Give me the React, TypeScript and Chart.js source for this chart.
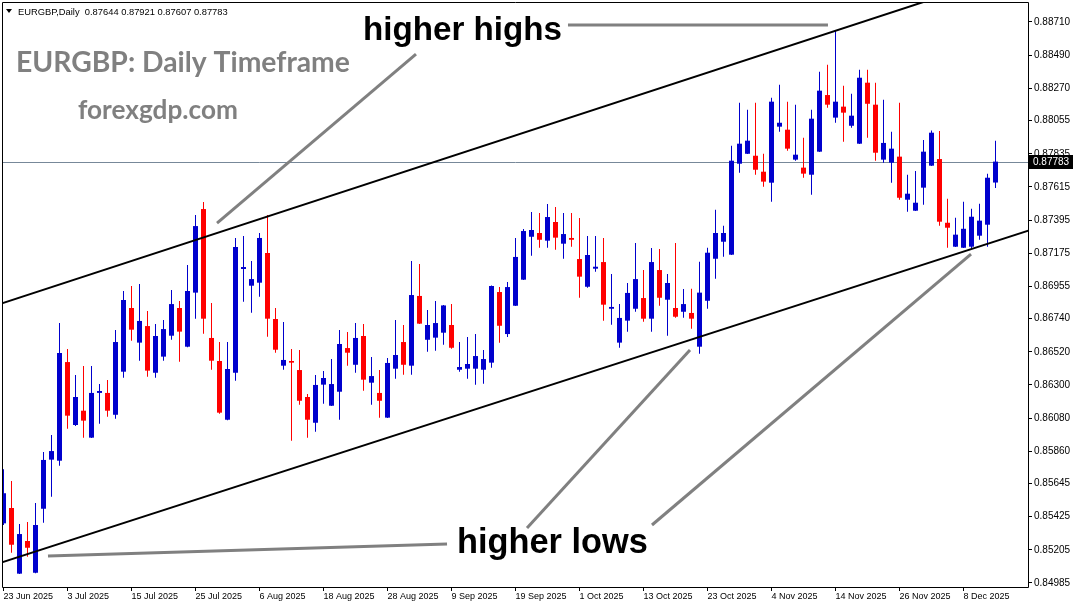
import React, { useEffect, useRef } from 'react';
import { Chart, registerables } from 'chart.js';

Chart.register(...registerables);

// ---- Data (EURGBP daily, 23 Jun 2025 .. 12 Dec 2025), bar index = trading day ----
const opens = [
  0.85381, 0.85483, 0.85047, 0.85264, 0.85053, 0.85478, 0.85804, 0.85797, 0.86452, 0.86034,
  0.86129, 0.85950, 0.86247, 0.86247, 0.86102, 0.86388, 0.86811, 0.86581, 0.86691, 0.86381,
  0.86488, 0.86627, 0.86811, 0.86554, 0.86913, 0.87468, 0.86612, 0.86459, 0.86069, 0.86381,
  0.87070, 0.86959, 0.86979, 0.87176, 0.86738, 0.86428, 0.86459, 0.86399, 0.86220, 0.86049,
  0.86302, 0.86162, 0.86255, 0.86545, 0.86434, 0.86625, 0.86315, 0.86247, 0.86083, 0.86408,
  0.86585, 0.86428, 0.86891, 0.86600, 0.86614, 0.86647, 0.86698, 0.86401, 0.86408, 0.86408,
  0.86401, 0.86448, 0.86917, 0.86638, 0.86826, 0.86999, 0.87284, 0.87309, 0.87258, 0.87382,
  0.87238, 0.87276, 0.87136, 0.86952, 0.87072, 0.87116, 0.86806, 0.86581, 0.86727, 0.86806,
  0.86877, 0.86740, 0.87063, 0.86866, 0.86811, 0.86786, 0.86778, 0.86554, 0.86859, 0.87138,
  0.87251, 0.87165, 0.87769, 0.87835, 0.87822, 0.87716, 0.87643, 0.88015, 0.87995, 0.87796,
  0.87743, 0.87696, 0.87849, 0.88225, 0.88075, 0.88148, 0.88021, 0.87902, 0.88307, 0.88161,
  0.87796, 0.87776, 0.87816, 0.87530, 0.87457, 0.87610, 0.87756, 0.87800, 0.87377, 0.87218,
  0.87211, 0.87218, 0.87291, 0.87364, 0.87644,
];
const highs = [
  0.85740, 0.85662, 0.85377, 0.85390, 0.85516, 0.85855, 0.85968, 0.86711, 0.86539, 0.86366,
  0.86426, 0.86426, 0.86306, 0.86333, 0.86665, 0.86924, 0.86957, 0.86970, 0.86791, 0.86705,
  0.86731, 0.86930, 0.86857, 0.87096, 0.87428, 0.87515, 0.86844, 0.86585, 0.86585, 0.87276,
  0.87289, 0.87123, 0.87309, 0.87428, 0.86811, 0.86718, 0.86539, 0.86532, 0.86240, 0.86366,
  0.86393, 0.86472, 0.86665, 0.86652, 0.86711, 0.86705, 0.86486, 0.86399, 0.86479, 0.86731,
  0.86698, 0.87123, 0.87103, 0.86798, 0.86857, 0.86831, 0.86837, 0.86585, 0.86618, 0.86638,
  0.86532, 0.86960, 0.86950, 0.86984, 0.87276, 0.87335, 0.87448, 0.87442, 0.87501, 0.87482,
  0.87442, 0.87442, 0.87409, 0.87289, 0.87289, 0.87276, 0.87037, 0.86837, 0.86977, 0.87243,
  0.87063, 0.87209, 0.87203, 0.87037, 0.87243, 0.86937, 0.86939, 0.87118, 0.87211, 0.87464,
  0.87357, 0.87889, 0.88174, 0.88128, 0.88174, 0.87835, 0.88207, 0.88294, 0.88181, 0.88161,
  0.87942, 0.88128, 0.88380, 0.88426, 0.88655, 0.88287, 0.88234, 0.88393, 0.88393, 0.88307,
  0.88194, 0.87982, 0.88174, 0.87696, 0.87721, 0.87926, 0.87989, 0.87986, 0.87537, 0.87410,
  0.87517, 0.87470, 0.87503, 0.87703, 0.87921,
];
const lows = [
  0.85370, 0.85186, 0.85045, 0.85160, 0.85050, 0.85385, 0.85558, 0.85764, 0.86009, 0.86027,
  0.85950, 0.85948, 0.86043, 0.86089, 0.86076, 0.86348, 0.86594, 0.86461, 0.86355, 0.86348,
  0.86461, 0.86600, 0.86454, 0.86550, 0.86740, 0.86640, 0.86401, 0.86109, 0.86066, 0.86328,
  0.86853, 0.86780, 0.86886, 0.86620, 0.86514, 0.86401, 0.85930, 0.86169, 0.85950, 0.85990,
  0.86175, 0.86160, 0.86069, 0.86428, 0.86381, 0.86262, 0.86169, 0.86083, 0.86080, 0.86341,
  0.86368, 0.86368, 0.86705, 0.86521, 0.86527, 0.86567, 0.86541, 0.86388, 0.86341, 0.86302,
  0.86308, 0.86415, 0.86581, 0.86618, 0.86824, 0.86997, 0.87158, 0.87211, 0.87211, 0.87198,
  0.87138, 0.87218, 0.86879, 0.86946, 0.87052, 0.86727, 0.86700, 0.86547, 0.86654, 0.86786,
  0.86720, 0.86654, 0.86826, 0.86627, 0.86747, 0.86747, 0.86673, 0.86507, 0.86806, 0.87005,
  0.87152, 0.87163, 0.87709, 0.87833, 0.87696, 0.87616, 0.87517, 0.87982, 0.87855, 0.87789,
  0.87676, 0.87563, 0.87847, 0.88141, 0.88041, 0.87915, 0.88008, 0.87900, 0.87942, 0.87789,
  0.87776, 0.87643, 0.87530, 0.87450, 0.87455, 0.87497, 0.87754, 0.87357, 0.87211, 0.87216,
  0.87209, 0.87205, 0.87264, 0.87218, 0.87607,
];
const closes = [
  0.85581, 0.85239, 0.85310, 0.85219, 0.85370, 0.85802, 0.85861, 0.86512, 0.86096, 0.86220,
  0.86063, 0.86247, 0.86260, 0.86129, 0.86585, 0.86864, 0.86667, 0.86725, 0.86395, 0.86625,
  0.86671, 0.86837, 0.86654, 0.86924, 0.87355, 0.86740, 0.86461, 0.86116, 0.86406, 0.87216,
  0.87083, 0.87003, 0.87276, 0.86740, 0.86534, 0.86466, 0.86448, 0.86195, 0.86069, 0.86300,
  0.86346, 0.86306, 0.86572, 0.86514, 0.86612, 0.86335, 0.86359, 0.86195, 0.86446, 0.86499,
  0.86434, 0.86897, 0.86707, 0.86698, 0.86711, 0.86828, 0.86547, 0.86419, 0.86439, 0.86492,
  0.86472, 0.86957, 0.86693, 0.86950, 0.87150, 0.87322, 0.87329, 0.87264, 0.87415, 0.87278,
  0.87302, 0.87264, 0.87019, 0.87163, 0.87085, 0.86833, 0.86818, 0.86745, 0.86911, 0.87003,
  0.86740, 0.87116, 0.86879, 0.86977, 0.86753, 0.86837, 0.86740, 0.86913, 0.87178, 0.87309,
  0.87309, 0.87789, 0.87902, 0.87922, 0.87729, 0.87650, 0.88181, 0.88041, 0.87869, 0.87829,
  0.87703, 0.88068, 0.88254, 0.88161, 0.88181, 0.88108, 0.88088, 0.88340, 0.88167, 0.87842,
  0.87907, 0.87869, 0.87543, 0.87570, 0.87510, 0.87849, 0.87975, 0.87384, 0.87344, 0.87298,
  0.87337, 0.87417, 0.87391, 0.87676, 0.87783,
];

// x-axis date labels every 8 bars
const xTickPositions = [0, 8, 16, 24, 32, 40, 48, 56, 64, 72, 80, 88, 96, 104, 112, 120];
const xTickLabels = [
  '23 Jun 2025', '3 Jul 2025', '15 Jul 2025', '25 Jul 2025', '6 Aug 2025', '18 Aug 2025',
  '28 Aug 2025', '9 Sep 2025', '19 Sep 2025', '1 Oct 2025', '13 Oct 2025', '23 Oct 2025',
  '4 Nov 2025', '14 Nov 2025', '26 Nov 2025', '8 Dec 2025',
];
// price axis labels
const yTickLabels = [
  '0.88710', '0.88490', '0.88270', '0.88055', '0.87835', '0.87615', '0.87395', '0.87175',
  '0.86955', '0.86740', '0.86520', '0.86300', '0.86080', '0.85860', '0.85645', '0.85425',
  '0.85205', '0.84985',
];

// trend channel and pointer lines (bar index, price)
const upperChannel = [{ x: -1, y: 0.86828 }, { x: 129, y: 0.89086 }];
const lowerChannel = [{ x: -1, y: 0.85108 }, { x: 129, y: 0.87340 }];
const highsPointerA = [{ x: 70.56, y: 0.8869 }, { x: 103.06, y: 0.8869 }];
const highsPointerB = [{ x: 26.69, y: 0.87375 }, { x: 51.56, y: 0.88497 }];
const lowsPointerA = [{ x: 5.56, y: 0.85164 }, { x: 55.44, y: 0.85244 }];
const lowsPointerB = [{ x: 65.44, y: 0.8535 }, { x: 85.81, y: 0.86532 }];
const lowsPointerC = [{ x: 81.06, y: 0.8537 }, { x: 120.94, y: 0.87169 }];

const SYMBOL_HEADER = 'EURGBP,Daily  0.87644 0.87921 0.87607 0.87783';
const TITLE = 'EURGBP: Daily Timeframe';
const SITE = 'forexgdp.com';
const HIGHS_TEXT = 'higher highs';
const LOWS_TEXT = 'higher lows';

const BLUE = '#0000CD';
const RED = '#FF0000';
const GRAY = '#808080';
const AXIS_FONT = 'Liberation Sans';

const Y_MIN = 0.849584;
const Y_MAX = 0.8883616;
const X_MIN = -0.0625;
const X_MAX = 128.0625;

function drawFitted(
  ctx: CanvasRenderingContext2D,
  text: string,
  x: number,
  baseline: number,
  width: number,
  weight: string,
  family: string,
  color: string
) {
  ctx.font = `${weight} 100px "${family}"`;
  const w = ctx.measureText(text).width;
  const size = (100 * width) / w;
  ctx.font = `${weight} ${size}px "${family}"`;
  ctx.fillStyle = color;
  ctx.textAlign = 'left';
  ctx.textBaseline = 'alphabetic';
  ctx.fillText(text, x, baseline);
}

const decorPlugin = {
  id: 'decor',
  beforeDraw(chart: any) {
    const ctx = chart.ctx;
    ctx.save();
    ctx.fillStyle = '#ffffff';
    ctx.fillRect(0, 0, chart.width, chart.height);
    ctx.restore();
  },
  beforeDatasetsDraw(chart: any) {
    const ctx = chart.ctx;
    const a = chart.chartArea;
    const y = Math.round(chart.scales.y.getPixelForValue(closes[closes.length - 1])) + 0.5;
    ctx.save();
    ctx.strokeStyle = '#778899';
    ctx.lineWidth = 1;
    ctx.beginPath();
    ctx.moveTo(a.left, y);
    ctx.lineTo(a.right, y);
    ctx.stroke();
    ctx.restore();
  },
  afterDraw(chart: any) {
    const ctx = chart.ctx;
    const a = chart.chartArea;
    ctx.save();
    // frame
    ctx.strokeStyle = '#000';
    ctx.lineWidth = 1;
    ctx.beginPath();
    ctx.moveTo(a.left - 0.5, a.bottom + 0.5);
    ctx.lineTo(a.left - 0.5, a.top - 0.5);
    ctx.lineTo(a.right + 0.5, a.top - 0.5);
    ctx.lineTo(a.right + 0.5, a.bottom + 0.5);
    ctx.lineTo(a.left - 0.5, a.bottom + 0.5);
    ctx.stroke();

    // header triangle + text
    ctx.fillStyle = '#000';
    ctx.beginPath();
    ctx.moveTo(6, 9);
    ctx.lineTo(12, 9);
    ctx.lineTo(9, 13);
    ctx.closePath();
    ctx.fill();
    drawFitted(ctx, SYMBOL_HEADER, 18, 15, 210, 'normal', AXIS_FONT, '#000');

    drawFitted(ctx, TITLE, 16, 72, 334, 'bold', 'Lato', GRAY);
    drawFitted(ctx, SITE, 78, 119, 160, 'bold', 'Lato', GRAY);
    drawFitted(ctx, HIGHS_TEXT, 363, 40, 199, 'bold', 'Liberation Sans', '#000');
    drawFitted(ctx, LOWS_TEXT, 457, 553, 191, 'bold', 'Liberation Sans', '#000');

    // current price box
    const last = closes[closes.length - 1];
    const py = Math.round(chart.scales.y.getPixelForValue(last));
    ctx.fillStyle = '#000';
    ctx.fillRect(a.right + 1, py - 7, 44, 14);
    ctx.fillStyle = '#fff';
    ctx.font = `10px "${AXIS_FONT}"`;
    ctx.textAlign = 'left';
    ctx.textBaseline = 'middle';
    ctx.fillText(last.toFixed(5), a.right + 5, py + 0.5);
    ctx.restore();
  },
};

export default function App() {
  const ref = useRef<HTMLCanvasElement | null>(null);

  useEffect(() => {
    if (!ref.current) return;
    const colors = closes.map((c, i) => (c >= opens[i] ? BLUE : RED));
    const bodyData = opens.map((o, i) => ({ x: i, y: [o, closes[i]] }));
    const wickData = highs.map((h, i) => ({ x: i, y: [lows[i], h] }));

    const lineDs = (data: any[], color: string, width: number) => ({
      type: 'line' as const,
      data,
      borderColor: color,
      borderWidth: width,
      pointRadius: 0,
      tension: 0,
      fill: false,
      clip: 0,
      order: 0,
    });

    const chart = new Chart(ref.current, {
      type: 'bar',
      data: {
        datasets: [
          lineDs(upperChannel, '#000', 2),
          lineDs(lowerChannel, '#000', 2),
          lineDs(highsPointerA, GRAY, 3),
          lineDs(highsPointerB, GRAY, 3),
          lineDs(lowsPointerA, GRAY, 3),
          lineDs(lowsPointerB, GRAY, 3),
          lineDs(lowsPointerC, GRAY, 3),
          {
            type: 'bar',
            data: bodyData as any,
            backgroundColor: colors,
            borderWidth: 0,
            barThickness: 5,
            maxBarThickness: 5,
            grouped: false,
            inflateAmount: 0,
            minBarLength: 1,
            clip: 0,
            order: 1,
          } as any,
          {
            type: 'bar',
            data: wickData as any,
            backgroundColor: colors,
            borderWidth: 0,
            barThickness: 1,
            maxBarThickness: 1,
            grouped: false,
            inflateAmount: 0,
            minBarLength: 1,
            clip: 0,
            order: 2,
          } as any,
        ],
      },
      options: {
        responsive: false,
        animation: false,
        devicePixelRatio: 1,
        events: [],
        layout: { padding: { left: 3, top: 3, right: 0, bottom: 0 } },
        plugins: { legend: { display: false }, tooltip: { enabled: false }, title: { display: false } },
        scales: {
          x: {
            type: 'linear',
            min: X_MIN,
            max: X_MAX,
            offset: false,
            afterBuildTicks: (s: any) => {
              s.ticks = xTickPositions.map((v) => ({ value: v }));
            },
            afterFit: (s: any) => {
              s.height = 21;
              s.paddingLeft = 0;
              s.paddingRight = 0;
            },
            grid: {
              display: true,
              drawOnChartArea: false,
              drawTicks: true,
              tickLength: 4,
              color: '#000',
              offset: false,
            },
            border: { display: false },
            ticks: {
              align: 'start',
              padding: 0,
              autoSkip: false,
              maxRotation: 0,
              minRotation: 0,
              color: '#000',
              font: { family: AXIS_FONT, size: 9 },
              callback: (_v: any, i: number) => xTickLabels[i],
            },
          } as any,
          y: {
            type: 'linear',
            position: 'right',
            min: Y_MIN,
            max: Y_MAX,
            afterBuildTicks: (s: any) => {
              s.ticks = yTickLabels.map((t) => ({ value: parseFloat(t) }));
            },
            afterFit: (s: any) => {
              s.width = 46;
              s.paddingTop = 0;
              s.paddingBottom = 0;
            },
            grid: {
              display: true,
              drawOnChartArea: false,
              drawTicks: true,
              tickLength: 4,
              color: '#000',
            },
            border: { display: false },
            ticks: {
              padding: 2,
              color: '#000',
              font: { family: AXIS_FONT, size: 10 },
              callback: (_v: any, i: number) => yTickLabels[i],
            },
          } as any,
        },
      },
      plugins: [decorPlugin],
    } as any);

    return () => chart.destroy();
  }, []);

  return (
    <div style={{ position: 'absolute', left: 0, top: 0, width: 1074, height: 608, background: '#fff' }}>
      <canvas ref={ref} width={1074} height={608} style={{ display: 'block', width: 1074, height: 608 }} />
    </div>
  );
}
